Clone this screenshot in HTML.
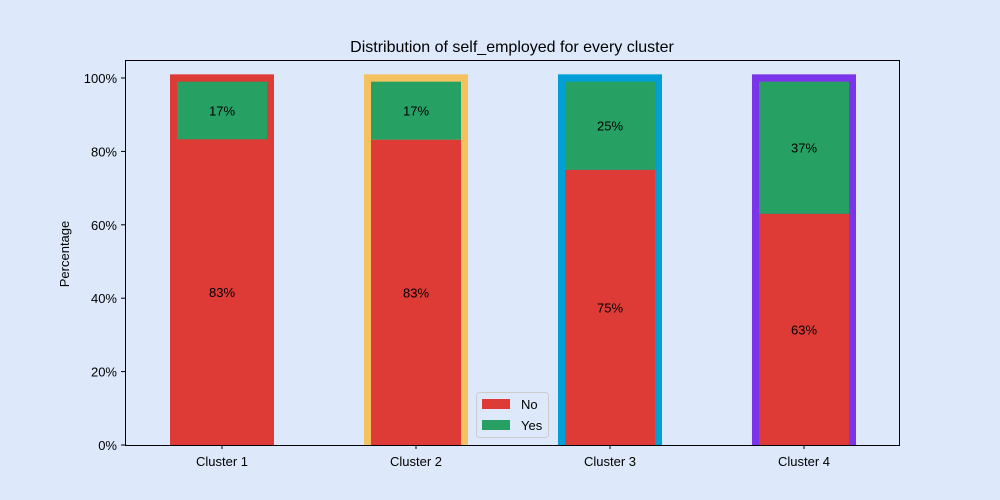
<!DOCTYPE html>
<html><head><meta charset="utf-8"><style>
html,body{margin:0;padding:0;background:#dde9fb;}
svg{display:block;font-family:"Liberation Sans","DejaVu Sans",sans-serif;}
</style></head><body>
<svg id="chart" width="1000" height="500" viewBox="0 0 1000 500">
<rect width="1000" height="500" fill="#dde9fb"/>
<text x="512" y="52" text-anchor="middle" font-size="16" fill="#000">Distribution of self_employed for every cluster</text>
<text x="69" y="254" text-anchor="middle" font-size="13" transform="rotate(-90 69 254)">Percentage</text>
<g id="plot"></g>
</svg>
<script>
const categories = ["Cluster 1","Cluster 2","Cluster 3","Cluster 4"];
const noValues = [83.3, 83.2, 75, 63];
const yesValues = [15.7, 15.8, 24, 36];
const yesLabels = [17, 17, 25, 37];
const noLabels = [83, 83, 75, 63];
const frameColors = ["#de3b37","#f6c15f","#00a0d6","#7b35e8"];
const yTicks = [0,20,40,60,80,100];

const NS="http://www.w3.org/2000/svg";
const g=document.getElementById('plot');
const L=125,R=900,T=60,B=445;
const y=v=>B-v*3.67;
const xc=i=>222+i*194;
function mk(tag,attrs){const e=document.createElementNS(NS,tag);for(const k in attrs)e.setAttribute(k,attrs[k]);g.appendChild(e);return e;}

categories.forEach((c,i)=>{
  const f=mk('rect',{x:xc(i)-52,y:y(101),width:104,height:y(0)-y(101),fill:frameColors[i]});
  
  
  const n=mk('rect',{x:xc(i)-45,y:y(noValues[i]),width:90,height:y(0)-y(noValues[i]),fill:"#de3b37"});
  
  
  const top=noValues[i]+yesValues[i];
  const s=mk('rect',{x:xc(i)-45,y:y(top),width:90,height:y(noValues[i])-y(top),fill:"#27a064"});
  
  
  const tn=mk('text',{x:xc(i),y:y(noValues[i]/2)+5,'text-anchor':'middle','font-size':13});
  tn.textContent=noLabels[i]+'%';
  
  
  const ty=mk('text',{x:xc(i),y:y(noValues[i]+yesValues[i]/2)+5,'text-anchor':'middle','font-size':13});
  ty.textContent=yesLabels[i]+'%';
  
  
  const tk=mk('line',{x1:xc(i),x2:xc(i),y1:B,y2:B+4,stroke:'#000'});
  
  
  const tl=mk('text',{x:xc(i),y:B+21,'text-anchor':'middle','font-size':13});
  tl.textContent=c;
  
  
});
yTicks.forEach(v=>{
  const t=mk('line',{x1:L-4,x2:L,y1:y(v),y2:y(v),stroke:'#000'});
  
  
  const tl=mk('text',{x:L-8,y:y(v)+5,'text-anchor':'end','font-size':13});
  tl.textContent=v+'%';
  
  
});
const ax=mk('rect',{x:L+0.5,y:T+0.5,width:R-L-1,height:B-T,fill:'none',stroke:'#000','stroke-width':1});


const lg=mk('rect',{x:476.5,y:392.5,width:72,height:45,rx:3,fill:'#dde9fb','fill-opacity':0.8,stroke:'#ccc'});


[["No","#de3b37"],["Yes","#27a064"]].forEach((d,k)=>{
  const r=mk('rect',{x:482,y:399+k*21,width:28,height:10,fill:d[1]});
  
  
  const t=mk('text',{x:521,y:409+k*21,'font-size':13});
  t.textContent=d[0];
  
  
});
</script>
</body></html>
